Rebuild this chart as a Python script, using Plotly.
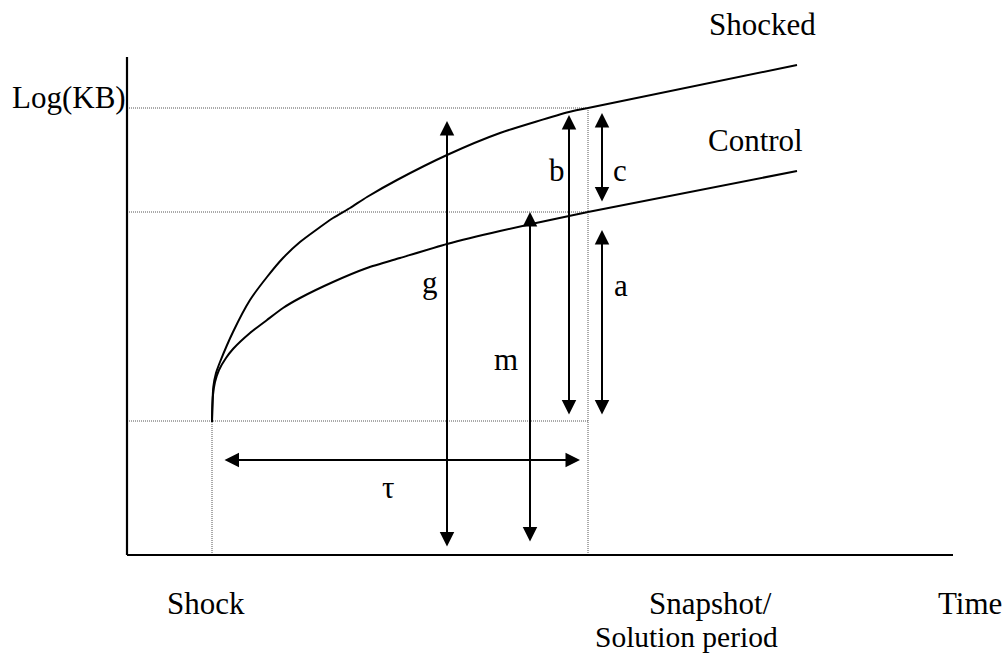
import plotly.graph_objects as go

# ---- data (schematic units: time offset from axis origin, log(KB) height) ----
shocked_t = [85, 85.4, 86.3, 89, 93, 106, 123, 140, 156, 173, 206, 223, 240, 270, 320, 373, 442, 461]
shocked_y = [133, 150, 168, 182, 193, 223, 255, 278, 297, 313, 337, 347, 358, 375, 400, 422, 443, 447]
shocked_ext_t = [461, 670]
shocked_ext_y = [447, 490]

control_t = [85, 85.3, 86, 88, 92, 99, 106, 123, 140, 156, 173, 206, 240, 273, 320, 373, 442, 461]
control_y = [133, 146, 160, 173, 185, 197, 206, 222, 235, 247, 257, 273, 287, 297, 311, 324, 339, 343]
control_ext_t = [461, 670]
control_ext_y = [343, 384]

shock_t, snapshot_t = 85, 461
base_y, control_level, shocked_level = 134, 343, 447

# double-headed arrows: (x0, y0, x1, y1)
arrows = {
    "g": (320, 7, 320, 434),
    "m": (403, 12, 403, 343),
    "b": (442, 139, 442, 440),
    "c": (475, 352, 475, 442),
    "a": (475, 139, 475, 325),
    "tau": (96, 95, 453, 95),
}

# (text, x, y, font size, vertical anchor)
labels = [
    ("Log(KB)", -58, 458, 31, "middle"),
    ("Shocked", 635, 531, 31, "middle"),
    ("Control", 628, 415, 31, "middle"),
    ("b", 430, 385, 31, "middle"),
    ("c", 493, 385, 31, "middle"),
    ("g", 303, 273, 31, "middle"),
    ("a", 494, 270, 31, "middle"),
    ("m", 379, 196, 31, "middle"),
    ("τ", 261, 68, 31, "middle"),
    ("Shock", 79, -48, 31, "middle"),
    ("Snapshot/", 583, -48, 31, "middle"),
    ("Solution period", 559, -99, 29.5, "bottom"),
    ("Time", 843, -48, 31, "middle"),
]

fig = go.Figure()

dot = dict(color="#555555", width=1, dash="1px,1px")
# guide lines
fig.add_trace(go.Scatter(x=[0, snapshot_t], y=[shocked_level, shocked_level], mode="lines", line=dot))
fig.add_trace(go.Scatter(x=[0, snapshot_t], y=[control_level, control_level], mode="lines", line=dot))
fig.add_trace(go.Scatter(x=[0, snapshot_t], y=[base_y, base_y], mode="lines", line=dot))
fig.add_trace(go.Scatter(x=[shock_t, shock_t], y=[0, base_y], mode="lines", line=dot))
fig.add_trace(go.Scatter(x=[snapshot_t, snapshot_t], y=[0, shocked_level], mode="lines", line=dot))

# axes
ax_line = dict(color="black", width=2.2)
fig.add_trace(go.Scatter(x=[0, 0], y=[0, 498], mode="lines", line=ax_line))
fig.add_trace(go.Scatter(x=[0, 826], y=[0, 0], mode="lines", line=ax_line))

# curves
curve = dict(color="black", width=2, shape="spline", smoothing=0.6)
fig.add_trace(go.Scatter(x=shocked_t, y=shocked_y, mode="lines", line=curve))
fig.add_trace(go.Scatter(x=control_t, y=control_y, mode="lines", line=curve))
fig.add_trace(go.Scatter(x=shocked_ext_t, y=shocked_ext_y, mode="lines", line=dict(color="black", width=2)))
fig.add_trace(go.Scatter(x=control_ext_t, y=control_ext_y, mode="lines", line=dict(color="black", width=2)))

for name, (x0, y0, x1, y1) in arrows.items():
    fig.add_annotation(
        x=x1, y=y1, ax=x0, ay=y0, xref="x", yref="y", axref="x", ayref="y",
        text="", showarrow=True, arrowhead=2, startarrowhead=2, arrowside="end+start",
        arrowsize=1.45, startarrowsize=1.45, arrowwidth=2, arrowcolor="black",
        standoff=0, startstandoff=0,
    )

for txt, x, y, size, va in labels:
    fig.add_annotation(
        x=x, y=y, xref="x", yref="y", text=txt, showarrow=False,
        font=dict(family="Liberation Serif", size=size, color="black"),
        xanchor="center", yanchor=va, borderpad=0,
    )

fig.update_layout(
    width=1005, height=654,
    margin=dict(l=0, r=0, t=0, b=0),
    paper_bgcolor="white", plot_bgcolor="white",
    showlegend=False,
    xaxis=dict(range=[-127, 878], visible=False, fixedrange=True),
    yaxis=dict(range=[-99, 555], visible=False, fixedrange=True),
)

fig.write_html(
    "out.html",
    config={"displayModeBar": False},
    post_script="document.body.style.margin='0px';document.body.style.overflow='hidden';",
)
